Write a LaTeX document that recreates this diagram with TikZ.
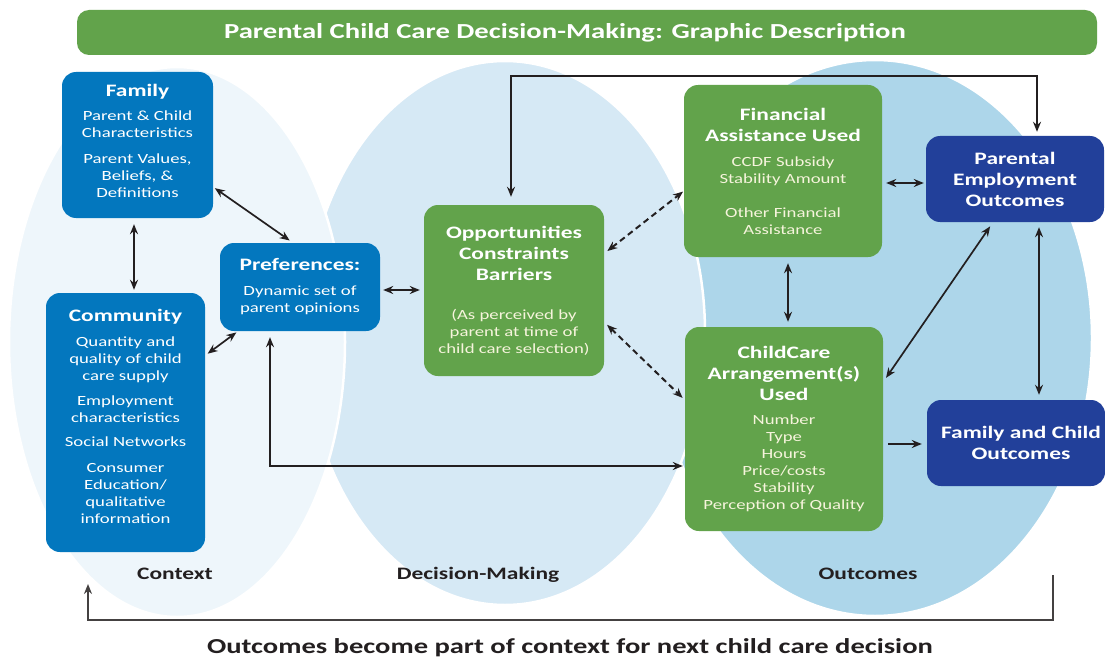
\documentclass[tikz,border=0pt]{standalone}
\usepackage{fontspec}
\setmainfont{Carlito}[FakeStretch=1.34]
\usetikzlibrary{arrows.meta}
\definecolor{ctxc}{HTML}{EEF6FB}
\definecolor{decc}{HTML}{D6E9F5}
\definecolor{outc}{HTML}{ADD6EA}
\definecolor{cblue}{HTML}{0377BE}
\definecolor{cgreen}{HTML}{62A34B}
\definecolor{cnavy}{HTML}{22409A}
\definecolor{cream}{HTML}{F6F4DC}
\definecolor{ink}{HTML}{231F20}
\newcommand\bodyf{\fontsize{14}{17}\selectfont}
\newcommand\hd[1]{{\fontsize{17.5}{21}\selectfont\bfseries\color{white}#1}}
\begin{document}
\begin{tikzpicture}[x=1pt,y=-1pt,
  box/.style={rounded corners=14pt, align=center, inner sep=0pt, font=\bodyf},
  bluebox/.style={box, fill=cblue, text=white},
  greenbox/.style={box, fill=cgreen, text=cream},
  navybox/.style={box, fill=cnavy, text=white, font=\fontsize{17.5}{21}\selectfont\bfseries},
  zone/.style={font=\fontsize{17.5}{21}\selectfont\bfseries, text=ink, anchor=base},
  blob/.style={draw=white, line width=2.5pt},
  link/.style={arrows={Stealth[length=10pt,width=8pt]-Stealth[length=10pt,width=8pt]}, line width=1.7pt, draw=ink},
  onelink/.style={arrows={-Stealth[length=10pt,width=8pt]}, line width=1.7pt, draw=ink},
  dlink/.style={link, line width=2pt, dash pattern=on 6pt off 4pt}]
\useasboundingbox (0,0) rectangle (1105,658);
\fill[white] (0,0) rectangle (1105,658);
% zones
\filldraw[blob, fill=outc] (875,338) ellipse [x radius=217, y radius=278];
\filldraw[blob, fill=decc] (505,333) ellipse [x radius=200, y radius=272];
\filldraw[blob, fill=ctxc] (177,342) ellipse [x radius=168, y radius=275];
% title
\node[rounded corners=12pt, fill=cgreen, text=white, minimum width=1020, minimum height=45, inner sep=0pt,
  font=\fontsize{21.4}{25}\selectfont\bfseries] (title) at (587,32.5) {\hspace*{-44pt}Parental Child Care Decision-Making: Graphic Description};
% boxes
\node[bluebox, minimum width=151, minimum height=146] (family) at (137.5,145)
  {\hd{Family}\\[7pt]Parent \& Child\\Characteristics\\[9pt]Parent Values,\\Beliefs, \&\\Definitions\\[-9pt]};
\node[bluebox, minimum width=159, minimum height=259] (community) at (125.5,422.5)
  {\hd{Community}\\[8pt]Quantity and\\quality of child\\care supply\\[8pt]Employment\\characteristics\\[7pt]Social Networks\\[9pt]Consumer\\Education/\\qualitative\\information\\[-5pt]};
\node[bluebox, minimum width=160, minimum height=88] (pref) at (300,287)
  {\hd{Preferences:}\\[8pt]Dynamic set of\\parent opinions};
\node[greenbox, minimum width=180, minimum height=171] (opp) at (514,290.5)
  {\hd{Opportunities}\\[4pt]\hd{Constraints}\\[4pt]\hd{Barriers}\\[22pt](As perceived by\\parent at time of\\child care selection)};
\node[greenbox, minimum width=198, minimum height=172] (fin) at (783,171)
  {\hd{Financial}\\[4pt]\hd{Assistance Used}\\[8pt]CCDF Subsidy\\Stability Amount\\[17pt]Other Financial\\Assistance};
\node[greenbox, minimum width=198, minimum height=204] (cc) at (784,429)
  {\hd{ChildCare}\\[4pt]\hd{Arrangement(s)}\\[4pt]\hd{Used}\\[7pt]Number\\Type\\Hours\\Price/costs\\Stability\\Perception of Quality};
\node[navybox, minimum width=178, minimum height=86] (peo) at (1015,179)
  {Parental\\Employment\\Outcomes};
\node[navybox, minimum width=178, minimum height=86] (fco) at (1016,443)
  {\hspace*{10pt}Family and Child\\\hspace*{10pt}Outcomes};
% zone labels
\node[zone] (ctxlbl) at (175,579) {Context};
\node[zone] (declbl) at (478,579) {Decision-Making};
\node[zone] (outlbl) at (868,579) {Outcomes};
\node[font=\fontsize{21.3}{25}\selectfont\bfseries, text=ink, anchor=base] (foot) at (570,653)
  {Outcomes become part of context for next child care decision};
% connectors
\draw[link, shorten <=6pt, shorten >=3pt] ([xshift=-3.5]family.south) -- ([xshift=8.5]community.north);
\draw[link, shorten <=2pt, shorten >=4pt] ([yshift=-42]family.east) -- ([xshift=-7]pref.north);
\draw[link, shorten <=3pt, shorten >=2pt] ([yshift=67]community.east) -- ([xshift=-62]pref.south);
\draw[link, shorten <=3pt, shorten >=4pt] ([yshift=-3]pref.east) -- ([yshift=0.5]opp.west);
\draw[link, shorten <=6pt, shorten >=2pt] ([xshift=-30]pref.south) |- ([yshift=-37]cc.west);
\draw[link, shorten <=8pt, shorten >=4pt] ([xshift=-3]opp.north) -- ++(0,-129) -| ([xshift=22]peo.north);
\draw[dlink, shorten <=4pt, shorten >=1pt] ([yshift=37]opp.east) -- ([yshift=-20]fin.west);
\draw[dlink, shorten <=4pt, shorten >=3pt] ([yshift=-31.5]opp.east) -- ([yshift=29]cc.west);
\draw[link, shorten <=6pt, shorten >=5pt] ([xshift=5]fin.south) -- ([xshift=4]cc.north);
\draw[link, shorten <=4pt, shorten >=2pt] ([yshift=-12]fin.east) -- ([yshift=-4]peo.west);
\draw[link, shorten <=5pt, shorten >=5pt] ([xshift=-22]peo.south) -- ([yshift=47]cc.east);
\draw[link, shorten <=5pt, shorten >=5pt] ([xshift=24]peo.south) -- ([xshift=23]fco.north);
\draw[onelink, shorten <=5pt, shorten >=5pt] ([yshift=-15]cc.east) -- ([yshift=-1]fco.west);
\coordinate (fbstart) at (1053,575);
\coordinate (fbend) at (88,584);
\draw[onelink, draw=ink!85] (fbstart) -- ++(0,45) -| (fbend);
\end{tikzpicture}
\end{document}
